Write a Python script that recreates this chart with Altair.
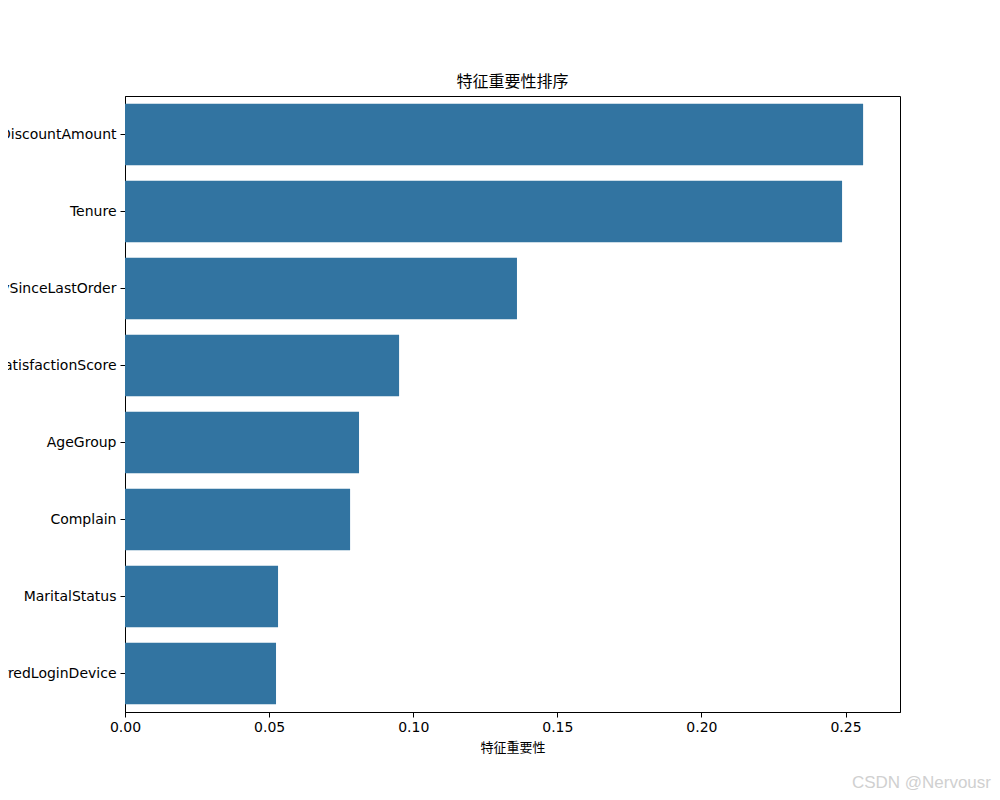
import altair as alt
import pandas as pd

features = ["DiscountAmount", "Tenure", "DaySinceLastOrder", "SatisfactionScore",
            "AgeGroup", "Complain", "MaritalStatus", "PreferredLoginDevice"]
importance = [0.2561, 0.2488, 0.1360, 0.0951, 0.0812, 0.0781, 0.0531, 0.0524]
x_ticks = [0.0, 0.05, 0.10, 0.15, 0.20, 0.25]
x_max = 0.2689

title_text = "特征重要性排序"
x_label = "特征重要性"
watermark = "CSDN @Nervousr"

df = pd.DataFrame({"feature": features, "importance": importance})

W, H = 775, 616

bars = alt.Chart(df).mark_bar(color="#3274a1").encode(
    x=alt.X("importance:Q",
            scale=alt.Scale(domain=[0, x_max], nice=False, zero=True),
            axis=alt.Axis(values=x_ticks, format=".2f", title=x_label, grid=False,
                          tickSize=5, tickColor="black", domainColor="black",
                          labelFlush=False,
                          labelFont="DejaVu Sans", labelFontSize=14, labelColor="black",
                          labelPadding=3, titleFont="Noto Sans CJK SC", titleFontSize=13,
                          titleFontWeight="normal", titleColor="black", titlePadding=7)),
    y=alt.Y("feature:N", sort=features,
            scale=alt.Scale(paddingInner=0.2, paddingOuter=0.1),
            axis=alt.Axis(title=None, tickSize=5, tickColor="black", domainColor="black",
                          labelFont="DejaVu Sans", labelFontSize=14, labelColor="black",
                          labelPadding=4, labelLimit=400)),
)

wm_df = pd.DataFrame({"t": [watermark]})
wm = alt.Chart(wm_df).mark_text(
    align="right", baseline="middle", font="Liberation Sans", fontSize=17,
    color="#d0d0d0"
).encode(text="t:N", x=alt.value(866), y=alt.value(687))

chart = alt.layer(bars, wm).properties(
    width=W, height=H,
    background="white",
    title=alt.TitleParams(title_text, font="Noto Sans CJK SC", fontSize=16,
                          fontWeight="normal", color="black", anchor="middle", offset=6),
    autosize=alt.AutoSizeParams(type="none"),
    padding={"left": 117, "top": 88, "right": 92, "bottom": 80},
).configure_view(stroke="black", strokeWidth=1)

chart.save("out.html", embed_options={"renderer": "svg", "actions": False})
